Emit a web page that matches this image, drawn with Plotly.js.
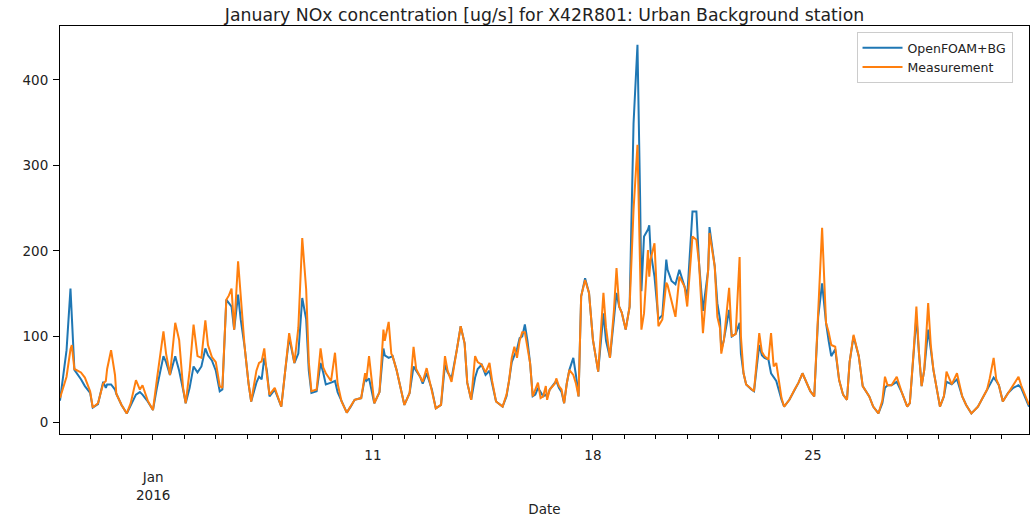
<!DOCTYPE html>
<html>
<head>
<meta charset="utf-8">
<script src="https://cdn.plot.ly/plotly-3.0.1.min.js"></script>
<style>html,body{margin:0;padding:0;background:#fff;}#chart{width:1033px;height:517px;}</style>
</head>
<body>
<div id="chart"></div>
<script>
// Hours since 2016-01-01 00:00 (sampled at visible features)
const hours = [1,6,9,10,12,17,20,24,26,30,34,36,37,40,43,44,48,52,55,59,62,64,68,72,75,80,82,85,89,92,95,97,100,103,106,109,112,114,117,120,123,125,128,130,132,134,137,139,142,145,147,151,153,155,157,159,161,165,170,173,176,180,183,186,189,191,193,197,200,202,204,208,211,213,216,220,223,226,231,234,235,237,241,245,248,249,252,254,255,258,264,268,271,273,276,278,281,285,288,292,295,297,300,304,307,310,312,315,318,320,323,326,329,331,334,339,342,344,346,348,350,352,354,356,358,360,362,364,366,368,370,372,373,375,379,380,382,384,386,388,390,393,395,397,399,402,405,408,412,416,418,421,424,426,428,430,433,436,439,442,444,445,447,450,451,452,455,458,461,464,465,468,471,474,478,480,484,487,489,492,496,497,501,503,505,506,508,512,514,517,520,521,523,525,529,531,535,537,539,542,544,546,548,552,554,558,562,565,568,571,574,577,580,583,586,588,590,593,596,599,602,604,607,611,614,619,622,626,629,631,633,636,640,644,648,650,653,655,657,659,661,664,666,668,673,676,678,682,686,690,693,697,702,709,711,714,716,718,721,725,729,733,735,738,741];
const openfoam = [25,84,156,120,61,50,42,34,17,21,47,40,44,44,38,33,20,10,20,32,35,32,24,14,40,77,70,55,77,60,38,22,40,65,58,65,86,78,72,60,36,38,143,139,135,108,149,120,88,45,24,46,53,50,75,60,30,38,18,60,99,69,80,145,120,60,34,36,69,58,44,46,48,35,24,11,18,26,28,53,48,51,22,35,86,78,75,77,77,61,20,34,65,60,53,45,57,38,16,20,67,58,51,84,112,92,46,26,52,62,67,55,60,45,24,18,30,49,70,78,85,98,100,114,95,69,30,32,40,35,30,32,29,38,45,48,40,35,22,45,61,75,55,30,147,168,151,96,59,127,95,75,120,151,135,128,108,135,349,441,264,153,217,225,230,200,170,120,125,190,178,165,161,178,158,147,246,246,186,130,178,228,182,139,120,84,96,131,100,103,116,80,57,44,38,36,90,78,75,73,57,52,48,26,18,26,38,46,57,46,36,30,123,162,116,95,77,85,49,32,26,70,100,77,42,30,18,10,22,40,43,43,47,34,18,22,80,123,80,42,61,108,85,61,18,30,47,44,50,30,20,10,18,38,45,52,48,43,24,34,40,43,40,30,18];
const measurement = [28,53,85,90,62,58,52,36,17,22,45,48,62,84,55,33,20,10,22,49,38,43,25,14,50,106,80,55,116,96,40,22,60,114,77,75,119,90,76,70,42,40,143,148,156,108,188,150,88,45,24,60,69,71,86,55,32,40,18,60,104,69,110,215,155,70,36,38,86,64,57,48,81,45,24,11,18,26,28,57,50,77,22,35,108,95,117,80,77,61,20,34,88,62,53,47,63,38,16,20,77,60,47,84,112,92,46,26,77,70,67,58,69,48,24,18,32,49,75,88,75,95,105,105,88,69,30,38,46,28,30,42,26,38,45,51,42,38,22,45,61,55,45,30,147,166,151,96,59,151,110,75,130,180,135,128,108,135,248,324,150,108,127,201,170,190,209,112,120,163,160,140,123,170,158,135,217,213,186,104,178,221,182,123,110,80,96,157,100,103,193,100,57,44,38,36,104,82,77,73,104,65,69,28,18,26,38,46,57,46,36,30,123,227,116,105,90,88,49,32,26,70,102,77,42,30,18,10,25,53,43,43,53,34,18,22,85,135,80,42,61,139,90,61,18,30,59,44,57,30,20,10,18,38,51,75,50,43,24,34,43,53,43,32,20];
const seriesNames = ['OpenFOAM+BG', 'Measurement'];
const yTickVals = [0, 100, 200, 300, 400];
const xTickDates = ['2016-01-04', '2016-01-11', '2016-01-18', '2016-01-25'];
const xTickLabels = ['', '11', '18', '25'];
const monthLabel = 'Jan<br>2016';
const titleText = 'January NOx concentration [ug/s] for X42R801: Urban Background station';
const xTitle = 'Date';

function stamp(h) {
  const d = new Date(Date.UTC(2016, 0, 1) + h * 3600000);
  return d.toISOString().slice(0, 16).replace('T', ' ');
}
const times = hours.map(stamp);

const font = {family: 'DejaVu Sans, sans-serif', size: 13.5, color: '#222'};

const traces = [
  {x: times, y: openfoam, name: seriesNames[0], type: 'scatter', mode: 'lines',
   line: {color: '#1f77b4', width: 2}},
  {x: times, y: measurement, name: seriesNames[1], type: 'scatter', mode: 'lines',
   line: {color: '#ff7f0e', width: 2}}
];

const layout = {
  width: 1033, height: 517,
  margin: {l: 59.5, r: 4, t: 26, b: 83, pad: 0},
  paper_bgcolor: '#fff', plot_bgcolor: '#fff',
  font: font,
  showlegend: true,
  title: {text: titleText, font: {family: 'DejaVu Sans, sans-serif', size: 17.3, color: '#222'},
          x: 0.5, xref: 'paper', xanchor: 'center', y: 1 - 15 / 517, yref: 'container', yanchor: 'middle'},
  xaxis: {
    type: 'date',
    range: [times[0], times[times.length - 1]],
    showgrid: false, zeroline: false,
    showline: true, mirror: true, linecolor: '#000', linewidth: 1,
    ticks: 'outside', ticklen: 5, tickcolor: '#000', tickwidth: 1,
    tickmode: 'array', tickvals: xTickDates, ticktext: xTickLabels,
    tickfont: font, ticklabelstandoff: 4,
    minor: {ticks: 'outside', ticklen: 3.5, tickcolor: '#000', tickwidth: 1,
            dtick: 86400000, tick0: '2016-01-01', showgrid: false},
    title: {text: xTitle, font: font, standoff: 44}
  },
  yaxis: {
    range: [-14, 463],
    showgrid: false, zeroline: false,
    showline: true, mirror: true, linecolor: '#000', linewidth: 1,
    ticks: 'outside', ticklen: 6, tickcolor: '#000', tickwidth: 1,
    tickmode: 'array', tickvals: yTickVals,
    tickfont: font, ticklabelstandoff: 2
  },
  legend: {
    x: 0.983, xanchor: 'right', y: 0.985, yanchor: 'top',
    bgcolor: 'rgba(255,255,255,0.85)', bordercolor: '#ccc', borderwidth: 1,
    font: {family: 'DejaVu Sans, sans-serif', size: 12.5, color: '#222'},
    itemwidth: 40
  },
  annotations: [{
    text: monthLabel, x: xTickDates[0], xref: 'x', y: 0, yref: 'paper',
    yanchor: 'top', xanchor: 'center', yshift: -33, showarrow: false,
    font: font, align: 'center'
  }]
};

Plotly.newPlot('chart', traces, layout, {displayModeBar: false, staticPlot: true});
</script>
</body>
</html>
